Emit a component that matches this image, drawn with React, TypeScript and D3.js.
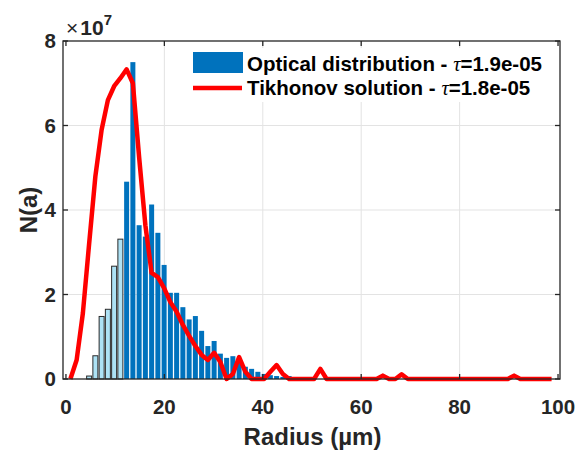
import React from "react";
import * as d3 from "d3";

// Radius grid (µm) shared by histogram bins and the Tikhonov solution
const radius = [
  0.9, 2.17, 3.44, 4.71, 5.98, 7.25, 8.52, 9.79, 11.06, 12.33,
  13.6, 14.87, 16.14, 17.41, 18.68, 19.95, 21.22, 22.49, 23.76, 25.03,
  26.3, 27.57, 28.84, 30.11, 31.38, 32.65, 33.92, 35.19, 36.46, 37.73,
  39.0, 40.27, 41.54, 42.81, 44.08, 45.35, 46.62, 47.89, 49.16, 50.43,
  51.7, 52.97, 54.24, 55.51, 56.78, 58.05, 59.32, 60.59, 61.86, 63.13,
  64.4, 65.67, 66.94, 68.21, 69.48, 70.75, 72.02, 73.29, 74.56, 75.83,
  77.1, 78.37, 79.64, 80.91, 82.18, 83.45, 84.72, 85.99, 87.26, 88.53,
  89.8, 91.07, 92.34, 93.61, 94.88, 96.15, 97.42, 98.69,
];

// Optical distribution (×1e7), lower-tail bins (outlined, light)
const opticalLow = [
  0, 0, 0, 0.07, 0.55, 1.48, 1.65, 2.67, 3.31, 0,
];

// Optical distribution (×1e7), main bins
const optical = [
  0, 0, 0, 0, 0, 0, 0, 0, 0, 4.67,
  7.5, 3.64, 3.37, 4.13, 3.46, 2.7, 2.04, 2.04, 1.7, 1.41,
  1.49, 1.14, 0.78, 0.9, 0.6, 0.5, 0.54, 0.38, 0.29, 0.24,
  0.17, 0.12, 0.09, 0.07, 0.05, 0.07,
];

// Tikhonov solution (×1e7)
const tikhonov = [
  0, 0.45, 1.56, 3.2, 4.8, 5.9, 6.6, 6.93, 7.12, 7.33,
  7.0, 5.25, 3.64, 2.51, 2.41, 2.15, 1.82, 1.59, 1.28, 1.02,
  0.78, 0.57, 0.45, 0.62, 0.4, 0.0, 0.12, 0.52, 0.17, 0,
  0, 0, 0.17, 0.33, 0.12, 0, 0, 0, 0, 0,
  0.24, 0, 0, 0, 0, 0, 0, 0, 0, 0,
  0.08, 0, 0, 0.11, 0, 0, 0, 0, 0, 0,
  0, 0, 0, 0, 0, 0, 0, 0, 0, 0,
  0, 0.08, 0, 0, 0, 0, 0, 0,
];

const xTicks = [0, 20, 40, 60, 80, 100];
const yTicks = [0, 2, 4, 6, 8];
const scaleExp = 7;
const binWidth = 1.27;

const legendItems = [
  { kind: "bar", label: "Optical distribution - ", tau: "1.9e-05" },
  { kind: "line", label: "Tikhonov solution - ", tau: "1.8e-05" },
];

const W = 579;
const H = 450;
const L = 63, R = 560, T = 41, B = 379;
const FONT = "'Liberation Sans', Arial, Helvetica, sans-serif";
const DARK = "#0072bd";
const LIGHT = "#ade2f5";
const AX = "#262626";
const GRID = "#e3e3e3";

export default function App() {
  const x = d3.scaleLinear().domain([-0.6, 100.4]).range([L, R]);
  const y = d3.scaleLinear().domain([0, 8]).range([B, T]);
  const bw = x(binWidth * 0.8) - x(0);
  const line = d3
    .line<number>()
    .x((_, i) => x(radius[i]))
    .y((d) => y(d))
    .curve(d3.curveLinear);

  return (
    <svg
      width={W}
      height={H}
      style={{ position: "absolute", left: 0, top: 0, background: "#fff" }}
      fontFamily={FONT}
    >
      <rect x={0} y={0} width={W} height={H} fill="#fff" />
      {/* grid */}
      {xTicks.slice(1, -1).map((t) => (
        <line key={"gx" + t} x1={x(t)} x2={x(t)} y1={T} y2={B} stroke={GRID} strokeWidth={1} />
      ))}
      {yTicks.slice(1, -1).map((t) => (
        <line key={"gy" + t} x1={L} x2={R} y1={y(t)} y2={y(t)} stroke={GRID} strokeWidth={1} />
      ))}
      {/* light bars */}
      {opticalLow.map((v, i) =>
        v > 0 ? (
          <rect
            key={"lb" + i}
            x={x(radius[i]) - bw / 2}
            y={y(v)}
            width={bw}
            height={y(0) - y(v)}
            fill={LIGHT}
            stroke="#2a2a2a"
            strokeWidth={1}
          />
        ) : null
      )}
      {/* dark bars */}
      {optical.map((v, i) =>
        v > 0 ? (
          <rect
            key={"db" + i}
            x={x(radius[i]) - bw / 2}
            y={y(v)}
            width={bw}
            height={y(0) - y(v)}
            fill={DARK}
          />
        ) : null
      )}
      {/* tikhonov line */}
      <path
        d={line(tikhonov) || ""}
        fill="none"
        stroke="#ff0000"
        strokeWidth={4.5}
        strokeLinejoin="round"
      />
      {/* axes box */}
      <rect x={L} y={T} width={R - L} height={B - T} fill="none" stroke={AX} strokeWidth={1.3} />
      {xTicks.map((t) => (
        <g key={"xt" + t}>
          <line x1={x(t)} x2={x(t)} y1={B} y2={B - 5} stroke={AX} strokeWidth={1.3} />
          <line x1={x(t)} x2={x(t)} y1={T} y2={T + 5} stroke={AX} strokeWidth={1.3} />
          <text x={x(t)} y={414} textAnchor="middle" fontSize={20.5} fontWeight="bold" fill={AX}>
            {t}
          </text>
        </g>
      ))}
      {yTicks.map((t) => (
        <g key={"yt" + t}>
          <line x1={L} x2={L + 5} y1={y(t)} y2={y(t)} stroke={AX} strokeWidth={1.3} />
          <line x1={R} x2={R - 5} y1={y(t)} y2={y(t)} stroke={AX} strokeWidth={1.3} />
          <text x={56} y={y(t) + 7} textAnchor="end" fontSize={20.5} fontWeight="bold" fill={AX}>
            {t}
          </text>
        </g>
      ))}
      {/* exponent */}
      <text x={66} y={35} fontSize={21} fill={AX}>
        <tspan fontWeight="normal">×</tspan>
        <tspan fontWeight="bold" dx={2}>10</tspan>
        <tspan fontWeight="bold" fontSize={15} dy={-10}>{scaleExp}</tspan>
      </text>
      {/* axis labels */}
      <text x={(L + R) / 2 + 1} y={445} textAnchor="middle" fontSize={24} fontWeight="bold" fill={AX}>
        Radius (µm)
      </text>
      <text
        transform={`translate(37,${(T + B) / 2}) rotate(-90)`}
        textAnchor="middle"
        fontSize={24}
        fontWeight="bold"
        fill={AX}
      >
        N(a)
      </text>
      {/* legend */}
      <rect x={186} y={48} width={372} height={54} fill="#fff" />
      {legendItems.map((it, i) => {
        const cy = 62 + i * 24;
        return (
          <g key={"lg" + i}>
            {it.kind === "bar" ? (
              <rect x={193} y={cy - 10} width={50} height={21} fill={DARK} />
            ) : (
              <line x1={193} x2={242} y1={cy + 2} y2={cy + 2} stroke="#ff0000" strokeWidth={4.5} />
            )}
            <text x={247} y={cy + 9} fontSize={20.5} fontWeight="bold" fill="#000">
              {it.label}
              <tspan fontFamily="'Liberation Serif', 'Times New Roman', serif" fontStyle="italic" fontWeight="normal">
                τ
              </tspan>
              {"=" + it.tau}
            </text>
          </g>
        );
      })}
    </svg>
  );
}
